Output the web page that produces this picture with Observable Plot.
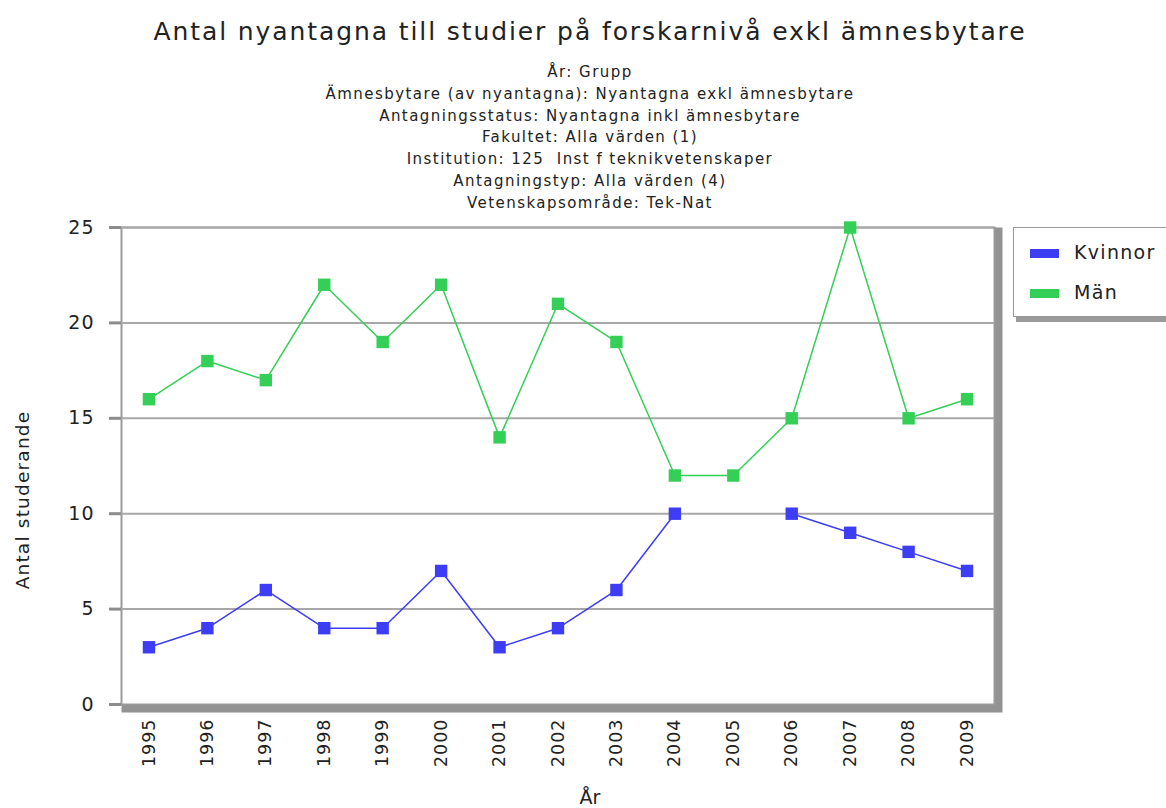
<!DOCTYPE html>
<html>
<head>
<meta charset="utf-8">
<script src="https://cdn.jsdelivr.net/npm/d3@7"></script>
<script src="https://cdn.jsdelivr.net/npm/@observablehq/plot@0.6"></script>
<style>
  html, body { margin: 0; padding: 0; background: #fff; overflow: hidden; }
  body { width: 1166px; height: 808px; position: relative; font-family: "DejaVu Sans", sans-serif; color: #222; }
  #head { position: absolute; left: 0; top: 0; width: 1166px; height: 215px; text-align: center; }
  #title { position: absolute; left: 14px; right: 0; top: 16px; font-size: 25px; line-height: 32px; letter-spacing: 1.9px; }
  #sub { position: absolute; left: 14px; right: 0; top: 62px; font-size: 15px; line-height: 21.8px; letter-spacing: 1.45px; }
  #chart { position: absolute; left: 0; top: 215px; }
  #chart svg text { letter-spacing: 1px; }
  #ylab { position: absolute; left: 22px; top: 500px; width: 0; height: 0; }
  #ylab div { position: absolute; left: 0; top: 0; transform: translate(-50%, -50%) rotate(-90deg); white-space: nowrap; font-size: 18.5px; letter-spacing: 1.2px; }
  #xlab { position: absolute; left: 590px; top: 797px; transform: translate(-50%, -50%); font-size: 19px; }
  #legend { position: absolute; left: 1013px; top: 227px; width: 170px; height: 88px; border: 1.5px solid #999; background: #fff; box-shadow: 3px 5px 0 #9a9a9a; }
  .item { position: absolute; left: 16px; font-size: 19px; letter-spacing: 1.3px; }
  .sw { display: inline-block; width: 29px; height: 9px; vertical-align: middle; margin-right: 15px; }
</style>
</head>
<body>
<div id="head">
  <div id="title">Antal nyantagna till studier på forskarnivå exkl ämnesbytare</div>
  <div id="sub"></div>
</div>
<div id="chart"></div>
<div id="ylab"><div>Antal studerande</div></div>
<div id="xlab">År</div>
<div id="legend"></div>
<script>
const years = ["1995","1996","1997","1998","1999","2000","2001","2002","2003","2004","2005","2006","2007","2008","2009"];
const kvinnor = [3, 4, 6, 4, 4, 7, 3, 4, 6, 10, null, 10, 9, 8, 7];
const man = [16, 18, 17, 22, 19, 22, 14, 21, 19, 12, 12, 15, 25, 15, 16];
const seriesNames = ["Kvinnor", "Män"];
const seriesColors = ["#3d3df5", "#33cf57"];
const yTicks = [0, 5, 10, 15, 20, 25];
const subtitleLines = [
  "År: Grupp",
  "Ämnesbytare (av nyantagna): Nyantagna exkl ämnesbytare",
  "Antagningsstatus: Nyantagna inkl ämnesbytare",
  "Fakultet: Alla värden (1)",
  "Institution: 125  Inst f teknikvetenskaper",
  "Antagningstyp: Alla värden (4)",
  "Vetenskapsområde: Tek-Nat"
];

document.getElementById("sub").innerHTML = subtitleLines.map(s => `<div>${s.replace(/  /g, " &nbsp;")}</div>`).join("");

const rows = [];
[kvinnor, man].forEach((vals, si) => {
  years.forEach((yr, i) => rows.push({year: yr, value: vals[i], series: seriesNames[si]}));
});

const chart = Plot.plot({
  width: 1166,
  height: 593,
  marginTop: 12,
  marginBottom: 104,
  marginLeft: 121,
  marginRight: 172,
  style: {fontFamily: "DejaVu Sans, sans-serif", fontSize: "18px", color: "#222", background: "transparent"},
  x: {type: "point", domain: years, padding: 0.47, round: false, label: null},
  y: {domain: [0, 25], label: null},
  color: {domain: seriesNames, range: seriesColors},
  marks: [
    Plot.frame({stroke: "#939393", strokeWidth: 8, dx: 4, dy: 4}),
    Plot.frame({fill: "white", stroke: "#9a9a9a", strokeWidth: 2}),
    Plot.gridY(yTicks.slice(1), {stroke: "#a8a8a8", strokeOpacity: 1, strokeWidth: 2}),
    Plot.axisY(yTicks, {tickSize: 12, tickPadding: 15, stroke: "#8c8c8c", strokeWidth: 3, label: null, fontSize: 19}),
    Plot.axisX(years, {tickSize: 0, tickPadding: 14, tickRotate: -90, label: null, fontSize: 17.5}),
    Plot.line(rows, {x: "year", y: "value", z: "series", stroke: "series", strokeWidth: 1.5}),
    Plot.dot(rows.filter(d => d.value != null), {x: "year", y: "value", fill: "series", symbol: "square", r: 7, stroke: "none"})
  ]
});
document.getElementById("chart").appendChild(chart);

document.getElementById("legend").innerHTML = seriesNames.map((n, i) =>
  `<div class="item" style="top:${13 + i * 40}px"><span class="sw" style="background:${seriesColors[i]}"></span>${n}</div>`
).join("");
</script>
</body>
</html>
